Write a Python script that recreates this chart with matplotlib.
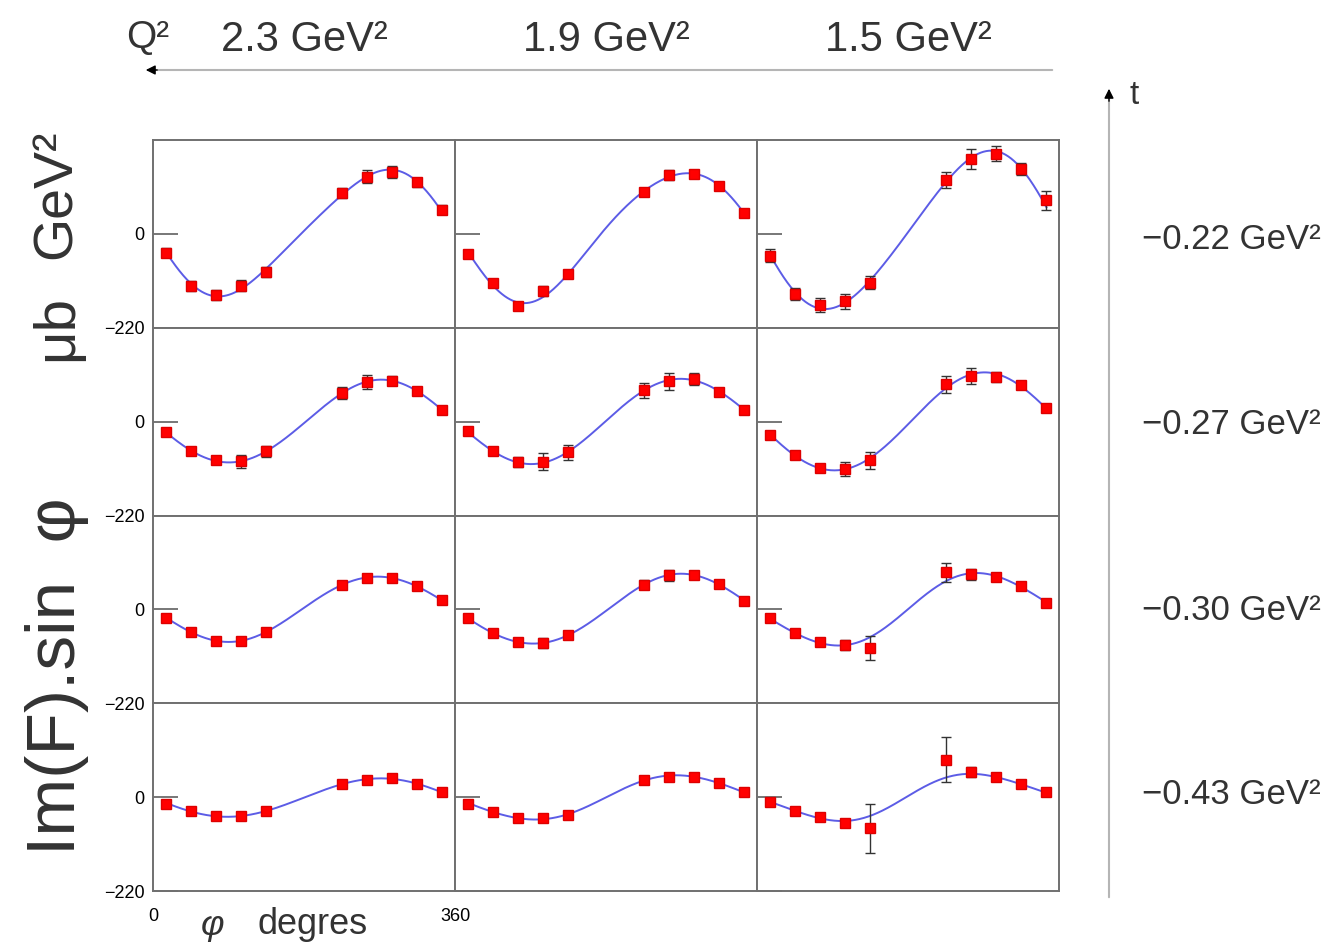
import numpy as np
import matplotlib as mpl
mpl.use("Agg")
import matplotlib.pyplot as plt

plt.rcParams['font.family'] = ['Liberation Sans', 'DejaVu Sans']

# phi bins (degrees)
phi = np.array([15, 45, 75, 105, 135, 225, 255, 285, 315, 345])

q2_labels = ["2.3 GeV\u00b2", "1.9 GeV\u00b2", "1.5 GeV\u00b2"]
t_labels = ["\u22120.22 GeV\u00b2", "\u22120.27 GeV\u00b2", "\u22120.30 GeV\u00b2", "\u22120.43 GeV\u00b2"]

# Im(F).sin(phi) values, one list per Q2 column (2.3, 1.9, 1.5)
val_t022 = [[-44, -122, -144, -121, -89, 95, 134, 145, 121, 57],
            [-47, -114, -169, -134, -95, 99, 138, 140, 113, 50],
            [-51, -142, -167, -158, -114, 126, 176, 188, 153, 79]]
err_t022 = [[10, 12, 12, 12, 12, 12, 15, 13, 10, 10],
            [7, 6, 7, 12, 8, 8, 12, 6, 6, 7],
            [16, 14, 16, 18, 16, 18, 24, 18, 14, 22]]

val_t027 = [[-24, -68, -91, -93, -70, 67, 93, 96, 71, 27],
            [-23, -70, -94, -94, -72, 73, 95, 100, 69, 27],
            [-31, -78, -109, -111, -91, 88, 107, 105, 86, 31]]
err_t027 = [[5, 5, 9, 15, 13, 14, 16, 10, 5, 5],
            [5, 6, 12, 20, 18, 18, 20, 14, 10, 6],
            [6, 6, 10, 16, 20, 20, 18, 12, 8, 7]]

val_t030 = [[-20, -52, -74, -73, -53, 58, 74, 73, 54, 21],
            [-20, -55, -77, -79, -60, 58, 80, 80, 59, 20],
            [-21, -56, -77, -84, -91, 87, 82, 75, 54, 16]]
err_t030 = [[4, 4, 5, 8, 5, 6, 7, 5, 5, 4],
            [4, 4, 6, 12, 7, 10, 13, 6, 5, 4],
            [4, 4, 5, 12, 28, 22, 13, 6, 4, 4]]

val_t043 = [[-15, -32, -45, -45, -32, 31, 40, 45, 30, 12],
            [-15, -34, -50, -48, -42, 41, 46, 47, 33, 12],
            [-11, -33, -47, -60, -73, 88, 58, 46, 30, 11]]
err_t043 = [[3, 3, 3, 3, 3, 3, 3, 3, 3, 3],
            [3, 3, 4, 5, 4, 4, 6, 4, 3, 3],
            [3, 3, 4, 8, 58, 52, 12, 4, 3, 3]]

rows = [(val_t022, err_t022), (val_t027, err_t027),
        (val_t030, err_t030), (val_t043, err_t043)]

W, H = 1329, 943
fig, axes = plt.subplots(4, 3, figsize=(W / 100, H / 100), dpi=100,
                         sharex=True, sharey=True)
fig.subplots_adjust(left=153 / W, right=1059 / W, top=1 - 140 / H,
                    bottom=1 - 891 / H, wspace=0, hspace=0)


def fit_curve(x, y, e):
    # weighted least squares with two harmonics, like the original fit
    r = np.radians(x)
    A = np.column_stack([np.ones_like(r), np.sin(r), np.cos(r),
                         np.sin(2 * r), np.cos(2 * r)])
    w = 1.0 / np.asarray(e, float)
    coef, *_ = np.linalg.lstsq(A * w[:, None], np.asarray(y, float) * w, rcond=None)
    xs = np.linspace(x[0], x[-1], 300)
    rs = np.radians(xs)
    B = np.column_stack([np.ones_like(rs), np.sin(rs), np.cos(rs),
                         np.sin(2 * rs), np.cos(2 * rs)])
    return xs, B @ coef


for i, (vals, errs) in enumerate(rows):
    for j in range(3):
        ax = axes[i, j]
        xs, ys = fit_curve(phi, vals[j], errs[j])
        ax.plot(xs, ys, color='#5c5ce6', lw=1.4, zorder=2)
        ax.errorbar(phi, vals[j], yerr=errs[j], fmt='s', color='#ff0000',
                    mec='#dd0000', ms=7, ecolor='#333333', elinewidth=1,
                    capsize=3.5, capthick=1, zorder=3)
        ax.set_xlim(0, 360)
        ax.set_ylim(-220, 220)
        for s in ax.spines.values():
            s.set_color('#707070')
            s.set_linewidth(1.4)
        ax.tick_params(axis='y', direction='in', length=18, width=1.2,
                       color='#606060', labelsize=13, pad=6,
                       labelleft=(j == 0))
        ax.tick_params(axis='x', length=0, labelsize=13, pad=12,
                       labelbottom=(i == 3 and j == 0))

axes[0, 0].set_yticks([-220, 0])
axes[0, 0].set_yticklabels(['\u2212220', '0'])
axes[3, 0].set_xticks([0, 360])
axes[3, 0].set_xticklabels(['0', '360'])


def px(x, y):
    return x / W, 1 - y / H


# top Q2 header and arrow
fig.text(*px(148, 38), "Q\u00b2", fontsize=28, ha='center', va='center', color='#333333')
for j, lab in enumerate(q2_labels):
    fig.text(*px(304 + 302 * j, 40), lab, fontsize=30, ha='center', va='center',
             color='#333333')
fig.add_artist(mpl.patches.FancyArrowPatch(px(1055, 70), px(150, 70), transform=fig.transFigure,
                                           arrowstyle='-', color='#b5b5b5', lw=1.5))
fig.add_artist(mpl.patches.FancyArrowPatch(px(160, 70), px(143, 70), transform=fig.transFigure,
                                           arrowstyle='-|>', color='black', lw=1,
                                           mutation_scale=14))

# t arrow on the right
fig.add_artist(mpl.patches.FancyArrowPatch(px(1109, 900), px(1109, 96), transform=fig.transFigure,
                                           arrowstyle='-', color='#b5b5b5', lw=1.5))
fig.add_artist(mpl.patches.FancyArrowPatch(px(1109, 104), px(1109, 86), transform=fig.transFigure,
                                           arrowstyle='-|>', color='black', lw=1,
                                           mutation_scale=14))
fig.text(*px(1134, 96), "t", fontsize=24, ha='center', va='center', color='#333333')
for i, lab in enumerate(t_labels):
    fig.text(*px(1142, 240 + 185 * i), lab, fontsize=25, ha='left', va='center',
             color='#333333')

# axis titles
ylab_kw = dict(rotation=90, ha='center', va='center', color='#333333')
fig.text(*px(57, 676), "Im(F).sin  \u03c6", fontsize=50, **ylab_kw)
fig.text(*px(57, 328), "\u03bcb", fontsize=42, **ylab_kw)
fig.text(*px(57, 194), "GeV\u00b2", fontsize=40, **ylab_kw)
fig.text(*px(213, 925), "\u03c6", fontsize=26, style='italic', ha='center', va='center',
         color='#333333')
fig.text(*px(313, 925), "degres", fontsize=26, ha='center', va='center', color='#333333')

plt.savefig('out.png', dpi=100)
